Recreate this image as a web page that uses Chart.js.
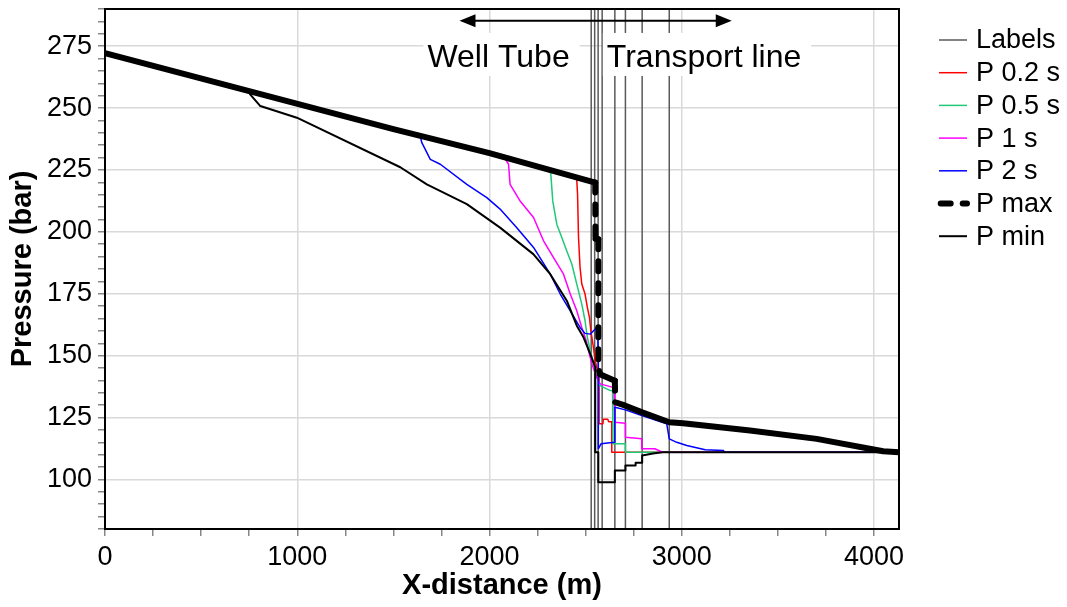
<!DOCTYPE html>
<html>
<head>
<meta charset="utf-8">
<title>Pressure profile</title>
<script src="https://cdn.jsdelivr.net/npm/chart.js@4.4.1/dist/chart.umd.min.js"></script>
<style>
  html, body { margin: 0; padding: 0; background: #fff; }
</style>
</head>
<body>
<canvas id="chart" width="1067" height="607"></canvas>
<script>
// pressure along the line (x in m, p in bar)
const labelX = [2529, 2547, 2565, 2586, 2652, 2707, 2794, 2935];

const p02X = [0, 2450, 2454, 2458, 2463, 2471, 2480, 2497, 2509, 2520, 2527, 2538, 2550, 2565, 2570, 2570, 2590, 2592, 2615, 2620, 2636, 2636, 4130];
const p02Y = [272.2, 222.1, 220.8, 215.2, 197.7, 185.6, 178.9, 174.9, 169.5, 165.4, 160.1, 154.7, 148, 142.7, 142, 122.5, 122.5, 124.3, 124.3, 123.3, 123.3, 111, 111];

const p05X = [0, 2314, 2319, 2329, 2350, 2376, 2402, 2428, 2454, 2480, 2497, 2509, 2524, 2540, 2560, 2575, 2628, 2640, 2642, 2707, 2707, 4130];
const p05Y = [272.2, 224.8, 223.3, 212.5, 203.1, 197.7, 192.3, 187.0, 178.9, 170.8, 164.1, 157.4, 152.0, 147, 141, 137.9, 135.9, 135.9, 114.4, 114.4, 111, 111];

const p1X = [0, 2082, 2099, 2107, 2159, 2229, 2281, 2333, 2385, 2420, 2454, 2480, 2503, 2515, 2535, 2560, 2575, 2648, 2652, 2707, 2707, 2792, 2792, 2860, 2900, 4130];
const p1Y = [272.2, 229.5, 227.3, 219.2, 212.5, 205.8, 196.4, 189.6, 182.9, 174.9, 168.1, 161.4, 156.0, 152.0, 146, 141, 138.6, 137.1, 123.1, 122.7, 117.1, 116.4, 112.4, 112.4, 111, 111];

const p2X = [0, 1640, 1648, 1692, 1744, 1882, 1986, 2055, 2142, 2229, 2316, 2368, 2471, 2497, 2524, 2550, 2562, 2566, 2566, 2580, 2650, 2652, 2707, 2792, 2922, 2935, 2974, 3026, 3122, 3217, 3222, 4130];
const p2Y = [272.2, 238.6, 236.0, 229.3, 227.3, 219.2, 213.8, 209.2, 201.7, 193.7, 182.9, 174.9, 161.4, 159.0, 158.7, 160.8, 162, 150, 112.4, 114.4, 115.0, 129.2, 128.1, 125.8, 122.5, 116.4, 115.0, 113.7, 112.0, 111.7, 111, 111];

const pMaxX = [0, 750, 1500, 2000, 2550, 2551, 2566, 2566, 2575, 2652, 2654, 2707, 2794, 2935, 3007, 3355, 3702, 4048, 4130];
const pMaxY = [272.2, 256.8, 241.5, 231.8, 219.9, 197.2, 197.0, 145.0, 142.5, 139.9, 131.2, 129.8, 127.1, 123.1, 122.7, 119.8, 116.4, 111.4, 111.0];

const pMinX = [0, 750, 755, 808, 998, 1536, 1674, 1882, 2055, 2228, 2316, 2402, 2454, 2489, 2524, 2550, 2550, 2566, 2566, 2652, 2652, 2707, 2707, 2760, 2760, 2794, 2794, 2850, 2900, 4130];
const pMinY = [272.2, 256.8, 255.5, 250.8, 246.1, 226.1, 219.2, 211.2, 201.7, 191.0, 182.9, 172.2, 162.1, 157.4, 150.7, 145.3, 111.0, 111.0, 98.9, 98.9, 103.6, 103.6, 105.6, 105.6, 106.8, 106.8, 109.7, 110.5, 111, 111];

// section markers above the curves
const zoneNames = ['Well Tube', 'Transport line'];
const zoneX = [2047, 3116];
const zoneBaseY = 266.6;
const arrowFrom = 1844;
const arrowTo = 3260;
const arrowY = 285.3;

const xMin = 0, xMax = 4130;
const yMin = 80, yMax = 290;

const FONT = '"Liberation Sans", Arial, sans-serif';

function pairs(xs, ys) {
    return xs.map((x, i) => ({ x: x, y: ys[i] }));
}

// each label position becomes a full-height vertical line, broken by a null
const labelData = [];
labelX.forEach(x => {
    labelData.push({ x: x, y: yMin }, { x: x, y: yMax }, { x: x, y: null });
});

function curve(label, xs, ys, color, width, order) {
    return {
        label: label,
        data: pairs(xs, ys),
        borderColor: color,
        backgroundColor: color,
        borderWidth: width,
        order: order
    };
}

const datasets = [
    { label: 'Labels', data: labelData, borderColor: '#5a5a5a', backgroundColor: '#5a5a5a', borderWidth: 1.5, order: 6, spanGaps: false },
    curve('P 0.2 s', p02X, p02Y, '#ff0000', 1.5, 5),
    curve('P 0.5 s', p05X, p05Y, '#20c878', 1.5, 4),
    curve('P 1 s', p1X, p1Y, '#ff00ff', 1.5, 3),
    curve('P 2 s', p2X, p2Y, '#0000ff', 1.5, 2),
    {
        label: 'P max',
        data: pairs(pMaxX, pMaxY),
        borderColor: '#000',
        backgroundColor: '#000',
        borderWidth: 6,
        borderDash: [10, 12],
        borderCapStyle: 'round',
        order: 1,
        // sloping parts stay solid, the vertical drops show the dashes
        segment: {
            borderDash: ctx => (Math.abs(ctx.p1.x - ctx.p0.x) < 2 ? [10, 12] : [])
        }
    },
    curve('P min', pMinX, pMinY, '#000', 2, 0)
];

// legend drawn at the right of the plot
const legendPlugin = {
    id: 'sideLegend',
    afterDraw(chart) {
        const ctx = chart.ctx;
        ctx.save();
        ctx.font = '27px ' + FONT;
        ctx.textBaseline = 'middle';
        ctx.textAlign = 'left';
        chart.data.datasets.forEach((ds, i) => {
            const y = 40 + i * 32.7;
            ctx.beginPath();
            ctx.strokeStyle = ds.borderColor;
            ctx.lineWidth = ds.borderWidth;
            ctx.setLineDash(ds.borderDash || []);
            ctx.lineCap = ds.borderCapStyle || 'butt';
            ctx.moveTo(ds.borderDash ? 940.7 : 939, y);
            ctx.lineTo(967, y);
            ctx.stroke();
            ctx.setLineDash([]);
            ctx.fillStyle = '#000';
            ctx.fillText(ds.label, 976, y + 1);
        });
        ctx.restore();
    }
};

// white-backed section names and the double arrow
const zonePlugin = {
    id: 'zones',
    afterDatasetsDraw(chart) {
        const { ctx, scales: { x, y } } = chart;
        ctx.save();
        ctx.font = '32px ' + FONT;
        ctx.textAlign = 'center';
        ctx.textBaseline = 'alphabetic';
        const by = y.getPixelForValue(zoneBaseY);
        zoneNames.forEach((name, i) => {
            const cx = x.getPixelForValue(zoneX[i]);
            const w = ctx.measureText(name).width;
            ctx.fillStyle = '#fff';
            ctx.fillRect(cx - w / 2 - 4, by - 34, w + 14, 43);
            ctx.fillStyle = '#000';
            ctx.fillText(name, cx, by);
        });

        const x1 = x.getPixelForValue(arrowFrom);
        const x2 = x.getPixelForValue(arrowTo);
        const ay = y.getPixelForValue(arrowY);
        ctx.strokeStyle = '#000';
        ctx.lineWidth = 2;
        ctx.beginPath();
        ctx.moveTo(x1 + 8, ay);
        ctx.lineTo(x2 - 8, ay);
        ctx.stroke();
        ctx.fillStyle = '#000';
        ctx.beginPath();
        ctx.moveTo(x1, ay);
        ctx.lineTo(x1 + 16, ay - 6.5);
        ctx.lineTo(x1 + 16, ay + 6.5);
        ctx.closePath();
        ctx.fill();
        ctx.beginPath();
        ctx.moveTo(x2, ay);
        ctx.lineTo(x2 - 16, ay - 6.5);
        ctx.lineTo(x2 - 16, ay + 6.5);
        ctx.closePath();
        ctx.fill();
        ctx.restore();
    }
};

// closed black frame round the plot
const framePlugin = {
    id: 'frame',
    afterDraw(chart) {
        const a = chart.chartArea;
        const ctx = chart.ctx;
        ctx.save();
        ctx.strokeStyle = '#000';
        ctx.lineWidth = 2;
        ctx.strokeRect(a.left, a.top, a.right - a.left, a.bottom - a.top);
        ctx.restore();
    }
};

const gridColor = major => ctx => (ctx.tick && ctx.tick.value % major === 0 ? '#d9d9d9' : 'rgba(0,0,0,0)');

new Chart(document.getElementById('chart').getContext('2d'), {
    type: 'line',
    data: { datasets: datasets },
    options: {
        responsive: false,
        animation: false,
        devicePixelRatio: 1,
        layout: { padding: { top: 9, right: 168, left: 0, bottom: 0 } },
        elements: {
            point: { radius: 0, hoverRadius: 0 },
            line: { tension: 0, borderJoinStyle: 'round' }
        },
        plugins: {
            legend: { display: false },
            tooltip: { enabled: false }
        },
        scales: {
            x: {
                type: 'linear',
                min: xMin,
                max: xMax,
                afterFit: s => { s.height = 78; s.paddingLeft = 0; s.paddingRight = 0; },
                ticks: {
                    stepSize: 250,
                    autoSkip: false,
                    includeBounds: false,
                    maxRotation: 0,
                    padding: 5,
                    color: '#000',
                    font: { family: FONT, size: 27 },
                    callback: v => (v % 1000 === 0 ? String(v) : '')
                },
                grid: {
                    color: gridColor(1000),
                    tickColor: '#888',
                    tickLength: 7,
                    lineWidth: 1.5
                },
                border: { color: '#000', width: 2 },
                title: {
                    display: true,
                    text: 'X-distance (m)',
                    color: '#000',
                    font: { family: FONT, size: 29, weight: 'bold' },
                    padding: { top: 0, bottom: 4 }
                }
            },
            y: {
                min: yMin,
                max: yMax,
                afterFit: s => { s.width = 105; s.paddingTop = 0; s.paddingBottom = 0; },
                ticks: {
                    stepSize: 5,
                    autoSkip: false,
                    includeBounds: false,
                    padding: 6,
                    color: '#000',
                    font: { family: FONT, size: 27 },
                    callback: v => (v % 25 === 0 ? String(v) : '')
                },
                grid: {
                    color: gridColor(25),
                    tickColor: '#888',
                    tickLength: 7,
                    lineWidth: 1.5
                },
                border: { color: '#000', width: 2 },
                title: {
                    display: true,
                    text: 'Pressure (bar)',
                    color: '#000',
                    font: { family: FONT, size: 29, weight: 'bold' },
                    padding: { top: 6, bottom: 0 }
                }
            }
        }
    },
    plugins: [zonePlugin, framePlugin, legendPlugin]
});
</script>
</body>
</html>
